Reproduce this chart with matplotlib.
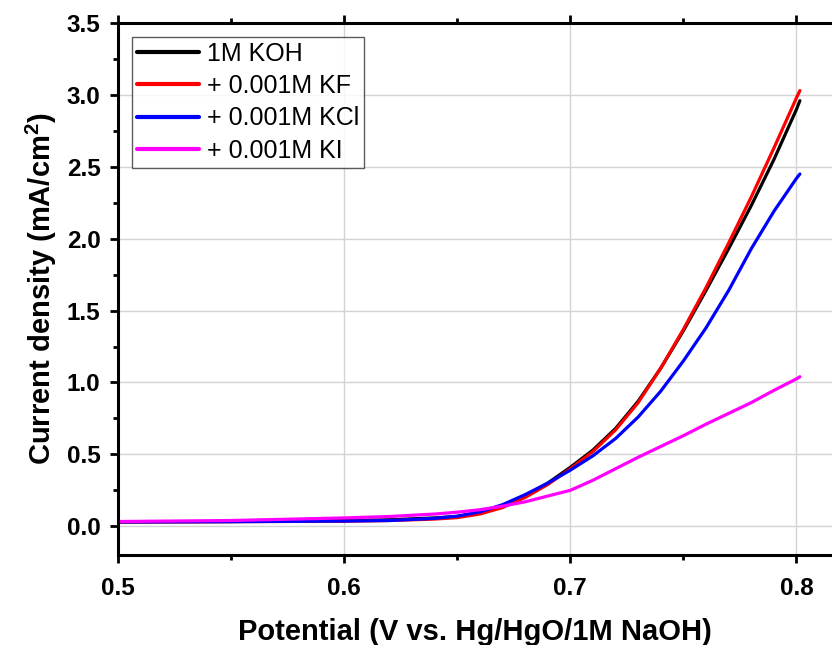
import numpy as np
import matplotlib
matplotlib.use("Agg")
import matplotlib.pyplot as plt
from matplotlib.ticker import MultipleLocator, FormatStrFormatter

plt.rcParams["font.family"] = ["Liberation Sans", "DejaVu Sans"]
plt.rcParams["mathtext.fontset"] = "custom"
plt.rcParams["mathtext.bf"] = "Liberation Sans:bold"
plt.rcParams["mathtext.rm"] = "Liberation Sans"

# potential (V vs. Hg/HgO/1M NaOH)
pot_koh = [0.50, 0.55, 0.60, 0.62, 0.64, 0.65, 0.66, 0.67, 0.68, 0.69, 0.70,
           0.71, 0.72, 0.73, 0.74, 0.75, 0.76, 0.77, 0.78, 0.79, 0.80, 0.8015]
cur_koh = [0.030, 0.033, 0.040, 0.045, 0.058, 0.068, 0.095, 0.14, 0.21, 0.30, 0.41,
           0.53, 0.68, 0.87, 1.10, 1.36, 1.64, 1.93, 2.23, 2.55, 2.90, 2.96]

pot_kf = [0.50, 0.55, 0.60, 0.62, 0.64, 0.65, 0.66, 0.67, 0.68, 0.69, 0.70,
          0.71, 0.72, 0.73, 0.74, 0.75, 0.76, 0.77, 0.78, 0.79, 0.80, 0.8015]
cur_kf = [0.030, 0.032, 0.035, 0.040, 0.050, 0.060, 0.085, 0.13, 0.20, 0.29, 0.40,
          0.52, 0.67, 0.86, 1.10, 1.37, 1.66, 1.97, 2.29, 2.63, 2.98, 3.03]

pot_kcl = [0.50, 0.55, 0.60, 0.62, 0.64, 0.65, 0.66, 0.67, 0.68, 0.69, 0.70,
           0.71, 0.72, 0.73, 0.74, 0.75, 0.76, 0.77, 0.78, 0.79, 0.80, 0.8015]
cur_kcl = [0.030, 0.032, 0.036, 0.040, 0.055, 0.070, 0.10, 0.15, 0.22, 0.30, 0.39,
           0.49, 0.61, 0.76, 0.94, 1.15, 1.38, 1.64, 1.93, 2.19, 2.42, 2.45]

pot_ki = [0.50, 0.55, 0.60, 0.62, 0.64, 0.65, 0.66, 0.67, 0.68, 0.69, 0.70,
          0.71, 0.72, 0.73, 0.74, 0.75, 0.76, 0.77, 0.78, 0.79, 0.80, 0.8015]
cur_ki = [0.033, 0.040, 0.058, 0.068, 0.085, 0.098, 0.115, 0.14, 0.17, 0.21, 0.25,
          0.32, 0.40, 0.48, 0.555, 0.63, 0.71, 0.785, 0.86, 0.945, 1.025, 1.04]

series = [
    (pot_koh, cur_koh, "#000000", "1M KOH"),
    (pot_kf, cur_kf, "#ff0000", "+ 0.001M KF"),
    (pot_kcl, cur_kcl, "#0000ff", "+ 0.001M KCl"),
    (pot_ki, cur_ki, "#ff00ff", "+ 0.001M KI"),
]

fig = plt.figure(figsize=(8.32, 6.45), dpi=100)
ax = fig.add_axes([0.1418, 0.1395, 1.0 - 0.1418, 0.9643 - 0.1395])

for x, y, c, lab in series:
    ax.plot(x, y, color=c, lw=2.3, label=lab, solid_capstyle="round")

ax.set_xlim(0.5, 0.8157)
ax.set_ylim(-0.2, 3.5)
ax.xaxis.set_major_locator(MultipleLocator(0.1))
ax.xaxis.set_minor_locator(MultipleLocator(0.05))
ax.yaxis.set_major_locator(MultipleLocator(0.5))
ax.yaxis.set_minor_locator(MultipleLocator(0.25))
ax.xaxis.set_major_formatter(FormatStrFormatter("%.1f"))
ax.yaxis.set_major_formatter(FormatStrFormatter("%.1f"))

ax.grid(True, which="major", color="#d3d3d3", lw=1.0)
ax.set_axisbelow(True)

ax.spines["right"].set_visible(False)
for s in ["left", "bottom", "top"]:
    ax.spines[s].set_linewidth(2.2)

ax.tick_params(which="both", direction="out", top=True, right=False,
               width=2.0, labelsize=17.5)
ax.tick_params(which="major", length=6)
ax.tick_params(which="minor", length=3.5)
ax.tick_params(axis="x", which="major", pad=10)
ax.tick_params(axis="y", which="major", pad=6.5)
for lbl in ax.get_xticklabels() + ax.get_yticklabels():
    lbl.set_fontweight("bold")

ax.set_xlabel("Potential (V vs. Hg/HgO/1M NaOH)", fontsize=21,
              fontweight="bold", labelpad=13)
ax.set_ylabel(r"Current density (mA/cm$^{\mathbf{2}}$)", fontsize=21,
              fontweight="bold", labelpad=6)

leg = ax.legend(loc="upper left", fontsize=18, frameon=True, fancybox=False,
                edgecolor="#333333", handlelength=2.5, handletextpad=0.3,
                labelspacing=0.33, borderpad=0.2, borderaxespad=0.55)
leg.get_frame().set_linewidth(1.0)
for h in leg.get_lines():
    h.set_linewidth(3.0)

fig.savefig("out.png", dpi=100)
